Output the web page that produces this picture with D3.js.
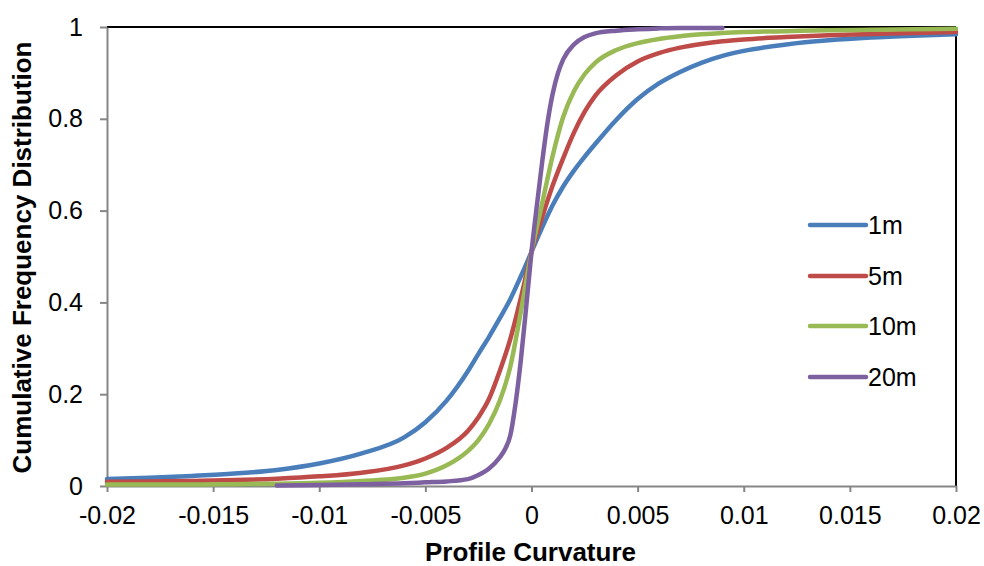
<!DOCTYPE html>
<html>
<head>
<meta charset="utf-8">
<script src="https://cdn.jsdelivr.net/npm/d3@7/dist/d3.min.js"></script>
<style>
  html, body { margin: 0; padding: 0; background: #fff; }
  svg { display: block; font-family: "Liberation Sans", Arial, sans-serif; }
</style>
</head>
<body>
<svg id="chart" width="984" height="566"></svg>
<script>
// ---- data ----
const seriesNames = ["1m", "5m", "10m", "20m"];
const seriesColors = ["#4a7ebb", "#be4b48", "#98b954", "#7d60a0"];

const xCommon = [-0.02, -0.018, -0.016, -0.014, -0.012, -0.01, -0.008, -0.006, -0.005, -0.004,
  -0.003, -0.0025, -0.002, -0.0015, -0.001, -0.0005, 0, 0.0005, 0.001, 0.0015, 0.002, 0.0025,
  0.003, 0.004, 0.005, 0.006, 0.007, 0.008, 0.009, 0.01, 0.012, 0.014, 0.016, 0.018, 0.02];

const y1m = [0.015, 0.018, 0.022, 0.027, 0.035, 0.049, 0.071, 0.106, 0.139, 0.186,
  0.25, 0.288, 0.325, 0.365, 0.407, 0.457, 0.51, 0.563, 0.612, 0.653, 0.687, 0.717,
  0.745, 0.798, 0.843, 0.877, 0.902, 0.922, 0.937, 0.948, 0.962, 0.971, 0.977, 0.981, 0.984];

const y5m = [0.009, 0.010, 0.011, 0.013, 0.016, 0.021, 0.029, 0.045, 0.06, 0.083,
  0.12, 0.15, 0.19, 0.25, 0.32, 0.41, 0.51, 0.585, 0.655, 0.715, 0.77, 0.815,
  0.85, 0.895, 0.925, 0.943, 0.955, 0.963, 0.969, 0.973, 0.978, 0.982, 0.985, 0.987, 0.989];

const y10m = [0.003, 0.003, 0.003, 0.004, 0.005, 0.007, 0.011, 0.018, 0.027, 0.045,
  0.076, 0.1, 0.135, 0.185, 0.26, 0.38, 0.51, 0.615, 0.72, 0.805, 0.86, 0.897,
  0.922, 0.95, 0.965, 0.974, 0.98, 0.984, 0.987, 0.989, 0.991, 0.993, 0.994, 0.995, 0.996];

const x20m = [-0.012, -0.01, -0.008, -0.006, -0.005, -0.004, -0.003, -0.0025, -0.002, -0.0015,
  -0.00125, -0.001, -0.00075, -0.0005, -0.00025, 0, 0.00025, 0.0005, 0.00075, 0.001, 0.00125,
  0.0015, 0.002, 0.0025, 0.003, 0.004, 0.005, 0.006, 0.007, 0.008, 0.009];
const y20m = [0.001, 0.002, 0.004, 0.006, 0.008, 0.01, 0.015, 0.024, 0.038, 0.062,
  0.08, 0.11, 0.18, 0.275, 0.39, 0.51, 0.61, 0.705, 0.79, 0.855, 0.9,
  0.93, 0.962, 0.978, 0.986, 0.992, 0.995, 0.997, 0.998, 0.998, 0.998];

const xTicks = [-0.02, -0.015, -0.01, -0.005, 0, 0.005, 0.01, 0.015, 0.02];
const yTicks = [0, 0.2, 0.4, 0.6, 0.8, 1];
const xTitle = "Profile Curvature";
const yTitle = "Cumulative Frequency Distribution";

// ---- layout ----
const svg = d3.select("#chart");
const pLeft = 107, pRight = 956, pTop = 27, pBottom = 486;

const x = d3.scaleLinear().domain([-0.02, 0.02]).range([pLeft, pRight]);
const y = d3.scaleLinear().domain([0, 1]).range([pBottom, pTop]);

const series = [
  { name: seriesNames[0], color: seriesColors[0], xs: xCommon, ys: y1m },
  { name: seriesNames[1], color: seriesColors[1], xs: xCommon, ys: y5m },
  { name: seriesNames[2], color: seriesColors[2], xs: xCommon, ys: y10m },
  { name: seriesNames[3], color: seriesColors[3], xs: x20m, ys: y20m }
];

// top and right border (black)
svg.append("line").attr("x1", pLeft).attr("x2", pRight).attr("y1", pTop).attr("y2", pTop)
  .attr("stroke", "#000").attr("stroke-width", 2);
svg.append("line").attr("x1", pRight).attr("x2", pRight).attr("y1", pTop).attr("y2", pBottom)
  .attr("stroke", "#000").attr("stroke-width", 2);

// axes
const fmtX = d => d === 0 ? "0" : String(d);
const xAxis = d3.axisBottom(x).tickValues(xTicks).tickFormat(fmtX).tickSizeInner(6).tickSizeOuter(0).tickPadding(14);
const yAxis = d3.axisLeft(y).tickValues(yTicks).tickFormat(d => String(d)).tickSizeInner(7).tickSizeOuter(0).tickPadding(17);

const gx = svg.append("g").attr("transform", `translate(0,${pBottom})`).call(xAxis);
const gy = svg.append("g").attr("transform", `translate(${pLeft},0)`).call(yAxis);
[gx, gy].forEach(g => {
  g.select(".domain").attr("stroke", "#868686").attr("stroke-width", 2);
  g.selectAll(".tick line").attr("stroke", "#868686").attr("stroke-width", 2);
  g.selectAll(".tick text").attr("fill", "#000").style("font-size", "25px")
    .style("font-family", "'Liberation Sans', Arial, sans-serif");
});

// lines
const line = d3.line().x(d => x(d[0])).y(d => y(d[1])).curve(d3.curveMonotoneX);
series.forEach(s => {
  const pts = s.xs.map((v, i) => [v, s.ys[i]]);
  svg.append("path").datum(pts).attr("d", line)
    .attr("fill", "none").attr("stroke", s.color).attr("stroke-width", 4.5)
    .attr("stroke-linecap", "round").attr("stroke-linejoin", "round");
});

// legend
const legendY = [225, 276, 326, 377];
series.forEach((s, i) => {
  svg.append("line").attr("x1", 810).attr("x2", 866).attr("y1", legendY[i]).attr("y2", legendY[i])
    .attr("stroke", s.color).attr("stroke-width", 4.5).attr("stroke-linecap", "round");
  svg.append("text").attr("x", 868).attr("y", legendY[i]).attr("dy", "0.35em")
    .style("font-size", "25px").attr("fill", "#000").text(s.name);
});

// titles
svg.append("text").attr("x", (pLeft + pRight) / 2 - 1).attr("y", 561)
  .attr("text-anchor", "middle").style("font-size", "26px").style("font-weight", "bold")
  .text(xTitle);
svg.append("text").attr("transform", `translate(31,${(pTop + pBottom) / 2 + 1}) rotate(-90)`)
  .attr("text-anchor", "middle").style("font-size", "26px").style("font-weight", "bold")
  .text(yTitle);
</script>
</body>
</html>
